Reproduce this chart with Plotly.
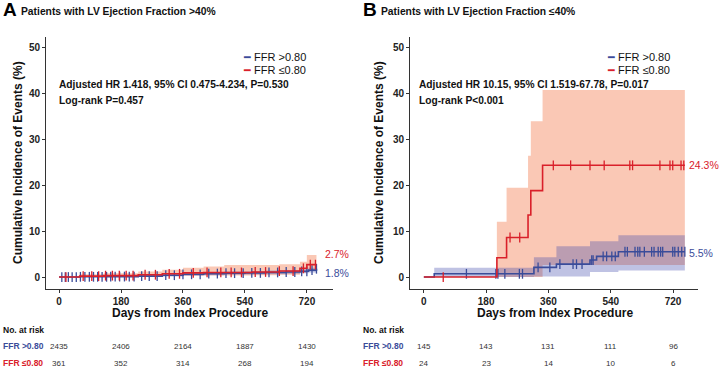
import numpy as np
import plotly.graph_objects as go

# ---------------- DATA ----------------
# Panel A: LVEF > 40%
a_hi_t = [0, 60, 150, 230, 300, 360, 420, 480, 540, 600, 660, 700, 725, 748]
a_hi_y = [0, 0.05, 0.1, 0.2, 0.4, 0.6, 0.75, 0.85, 0.9, 1.0, 1.1, 1.25, 1.5, 1.8]
a_hi_lo = [0, 0, 0, 0, 0.1, 0.3, 0.4, 0.5, 0.55, 0.6, 0.7, 0.8, 1.0, 1.2]
a_hi_up = [0, 0.2, 0.3, 0.5, 0.7, 0.9, 1.1, 1.2, 1.25, 1.4, 1.5, 1.7, 2.0, 2.4]
a_lo_t = [0, 60, 130, 230, 300, 360, 420, 480, 560, 640, 700, 720, 748]
a_lo_y = [0, 0.2, 0.3, 0.5, 0.7, 0.9, 1.0, 1.0, 1.1, 1.3, 1.9, 2.7, 2.7]
a_lo_lo = [0, 0, 0, 0.1, 0.2, 0.3, 0.35, 0.35, 0.4, 0.5, 0.9, 1.3, 1.3]
a_lo_up = [0, 0.6, 0.8, 1.2, 1.6, 2.0, 2.3, 2.6, 2.6, 2.8, 3.3, 4.8, 4.8]
a_hi_cens = [8, 18, 27, 38, 50, 62, 75, 88, 100, 112, 125, 138, 150, 163, 176, 190, 204,
             218, 240, 262, 285, 310, 335, 360, 385, 410, 435, 460, 485, 510, 535, 560,
             585, 610, 635, 660, 685, 705, 720, 735, 748]
a_lo_cens = [20, 70, 95, 115, 135, 155, 175, 195, 215, 250, 280, 320, 350, 390, 430,
             470, 500, 530, 570, 600, 640, 680, 710, 730, 745]

# Panel B: LVEF <= 40%
b_hi_t = [0, 30, 318, 383, 480, 499, 562, 754]
b_hi_y = [0, 0.7, 2.1, 2.8, 3.7, 4.5, 5.5, 5.5]
b_hi_lo = [0, 0, 0.1, 0.1, 1.1, 1.1, 1.4, 1.4]
b_hi_up = [0, 2.0, 4.3, 6.7, 7.8, 7.8, 9.1, 9.1]
b_lo_t = [0, 211, 239, 301, 309, 343, 754]
b_lo_y = [0, 4.2, 8.6, 13.5, 18.8, 24.3, 24.3]
b_lo_lo = [0, 0, 0, 0, 0, 2.6, 2.6]
b_lo_up = [0, 12.0, 19.4, 26.4, 33.9, 40.7, 40.7]
b_hi_cens = [123, 208, 214, 234, 276, 285, 330, 364, 393, 431, 441, 457, 485, 489,
             518, 528, 543, 553, 581, 588, 610, 618, 624, 637, 658, 665, 677, 684,
             690, 719, 725, 735, 745, 754]
b_lo_cens = [56, 249, 277, 374, 424, 480, 521, 595, 603, 682, 711, 719, 743, 751]

risk_days = [0, 180, 360, 540, 720]
a_risk_hi = [2435, 2406, 2164, 1887, 1430]
a_risk_lo = [361, 352, 314, 268, 194]
b_risk_hi = [145, 143, 131, 111, 96]
b_risk_lo = [24, 23, 14, 10, 6]

a_end = ["2.7%", "1.8%"]
b_end = ["24.3%", "5.5%"]
group_names = ["FFR >0.80", "FFR ≤0.80"]

# ---------------- STYLE ----------------
RED = "#D9202A"
BLUE = "#3A4C9A"
RED_FILL = "rgba(242,110,60,0.38)"
BLUE_FILL = "rgba(60,70,170,0.33)"
FONT = "Liberation Sans, Arial, sans-serif"
W, H = 720, 367


def px(x):
    return x / W


def py(y):
    return 1 - y / H


def step_at(ts, ys, q):
    idx = np.searchsorted(np.array(ts), np.array(q), side="right") - 1
    return [ys[i] for i in idx]


fig = go.Figure()


def add_panel(xa, ya, hi, lo):
    (ht, hy, hlo, hup, hc), (lt, ly, llo, lup, lc) = hi, lo
    # red CI
    fig.add_trace(go.Scatter(x=lt[1:], y=llo[1:], mode="lines", line=dict(width=0, shape="hv"),
                             xaxis=xa, yaxis=ya, showlegend=False, hoverinfo="skip"))
    fig.add_trace(go.Scatter(x=lt[1:], y=lup[1:], mode="lines", line=dict(width=0, shape="hv"),
                             fill="tonexty", fillcolor=RED_FILL,
                             xaxis=xa, yaxis=ya, showlegend=False, hoverinfo="skip"))
    # blue CI
    fig.add_trace(go.Scatter(x=ht[1:], y=hlo[1:], mode="lines", line=dict(width=0, shape="hv"),
                             xaxis=xa, yaxis=ya, showlegend=False, hoverinfo="skip"))
    fig.add_trace(go.Scatter(x=ht[1:], y=hup[1:], mode="lines", line=dict(width=0, shape="hv"),
                             fill="tonexty", fillcolor=BLUE_FILL,
                             xaxis=xa, yaxis=ya, showlegend=False, hoverinfo="skip"))
    # blue line + censor
    fig.add_trace(go.Scatter(x=ht, y=hy, mode="lines", line=dict(color=BLUE, width=1.6, shape="hv"),
                             xaxis=xa, yaxis=ya, showlegend=False))
    fig.add_trace(go.Scatter(x=hc, y=step_at(ht, hy, hc), mode="markers",
                             marker=dict(symbol="line-ns", size=7, line=dict(color=BLUE, width=1.3)),
                             xaxis=xa, yaxis=ya, showlegend=False))
    # red line + censor
    fig.add_trace(go.Scatter(x=lt, y=ly, mode="lines", line=dict(color=RED, width=1.6, shape="hv"),
                             xaxis=xa, yaxis=ya, showlegend=False))
    fig.add_trace(go.Scatter(x=lc, y=step_at(lt, ly, lc), mode="markers",
                             marker=dict(symbol="line-ns", size=7, line=dict(color=RED, width=1.3)),
                             xaxis=xa, yaxis=ya, showlegend=False))


add_panel("x", "y",
          (a_hi_t, a_hi_y, a_hi_lo, a_hi_up, a_hi_cens),
          (a_lo_t, a_lo_y, a_lo_lo, a_lo_up, a_lo_cens))
add_panel("x2", "y2",
          (b_hi_t, b_hi_y, b_hi_lo, b_hi_up, b_hi_cens),
          (b_lo_t, b_lo_y, b_lo_lo, b_lo_up, b_lo_cens))

axis_common = dict(showgrid=False, zeroline=False, showline=True, linecolor="#333", linewidth=1,
                   ticks="outside", ticklen=3, tickcolor="#333",
                   tickfont=dict(family=FONT, size=10, color="#222", weight="bold"))
ydom = [py(289), py(37)]
fig.update_layout(
    width=W, height=H, margin=dict(l=0, r=0, t=0, b=0),
    paper_bgcolor="white", plot_bgcolor="white", showlegend=False,
    xaxis=dict(domain=[px(46), px(333)], range=[-38, 796], tickvals=risk_days, anchor="y", **axis_common),
    yaxis=dict(domain=ydom, range=[-2.6, 52.2], tickvals=[0, 10, 20, 30, 40, 50], anchor="x", **axis_common),
    xaxis2=dict(domain=[px(410), px(698)], range=[-40, 792], tickvals=risk_days, anchor="y2", **axis_common),
    yaxis2=dict(domain=ydom, range=[-2.6, 52.2], tickvals=[0, 10, 20, 30, 40, 50], anchor="x2", **axis_common),
)

ann = []


def txt(x, y, s, size, color="#111", bold=False, xanchor="left", xref="paper", yref="paper", angle=0):
    ann.append(dict(x=x, y=y, xref=xref, yref=yref, text=s, showarrow=False, xanchor=xanchor,
                    yanchor="middle", textangle=angle,
                    font=dict(family=FONT, size=size, color=color, weight="bold" if bold else "normal")))


panels = [
    dict(xa="x", ya="y", left=0, letter="A", title="Patients with LV Ejection Fraction >40%",
         hr="Adjusted HR 1.418, 95% CI 0.475-4.234, P=0.530", lr="Log-rank P=0.457",
         rh=a_risk_hi, rl=a_risk_lo, ends=a_end, endy=[a_lo_y[-1], a_hi_y[-1]], shifts=[10.5, -4],
         ytx=18, xtc=190, leg=241, endx=766),
    dict(xa="x2", ya="y2", left=360, letter="B", title="Patients with LV Ejection Fraction ≤40%",
         hr="Adjusted HR 10.15, 95% CI 1.519-67.78, P=0.017", lr="Log-rank P<0.001",
         rh=b_risk_hi, rl=b_risk_lo, ends=b_end, endy=[b_lo_y[-1], b_hi_y[-1]], shifts=[0, -1],
         ytx=379, xtc=555, leg=605, endx=760),
]

for p in panels:
    L = p["left"]
    txt(px(L + 1), py(10), p["letter"], 19, "#000", True)
    txt(px(L + 19), py(11), p["title"], 10.3, "#111", True)
    txt(px(p["leg"]), py(57), "<span style='color:%s'>━</span> %s" % (BLUE, group_names[0]), 11, "#111")
    txt(px(p["leg"]), py(70), "<span style='color:%s'>━</span> %s" % (RED, group_names[1]), 11, "#111")
    txt(px(L + 57), py(85), p["hr"], 10.2, "#111", True)
    txt(px(L + 57), py(101), p["lr"], 10.2, "#111", True)
    txt(px(p["ytx"]), py(163), "Cumulative Incidence of Events (%)", 12, "#111", True, "center", angle=-90)
    txt(px(p["xtc"]), py(313), "Days from Index Procedure", 12, "#111", True, "center")
    txt(px(L + 1), py(330), "No. at risk", 8.5, "#111", True)
    txt(px(L + 1), py(346), group_names[0], 8.5, BLUE, True)
    txt(px(L + 1), py(363), group_names[1], 8.5, RED, True)
    xref = p["xa"]
    for d, v1, v2 in zip(risk_days, p["rh"], p["rl"]):
        txt(d, py(346), str(v1), 8, "#333", False, "center", xref=xref)
        txt(d, py(363), str(v2), 8, "#333", False, "center", xref=xref)
    for s, yv, col, sh in zip(p["ends"], p["endy"], [RED, BLUE], p["shifts"]):
        ann.append(dict(x=p["endx"], y=yv, xref=xref, yref=p["ya"], text=s, showarrow=False,
                        xanchor="left", yanchor="middle", yshift=sh,
                        font=dict(family=FONT, size=10.5, color=col)))

fig.update_layout(annotations=ann)
fig.write_html("out.html", config={"displayModeBar": False},
               post_script="document.body.style.margin='0';document.body.style.padding='0';")
